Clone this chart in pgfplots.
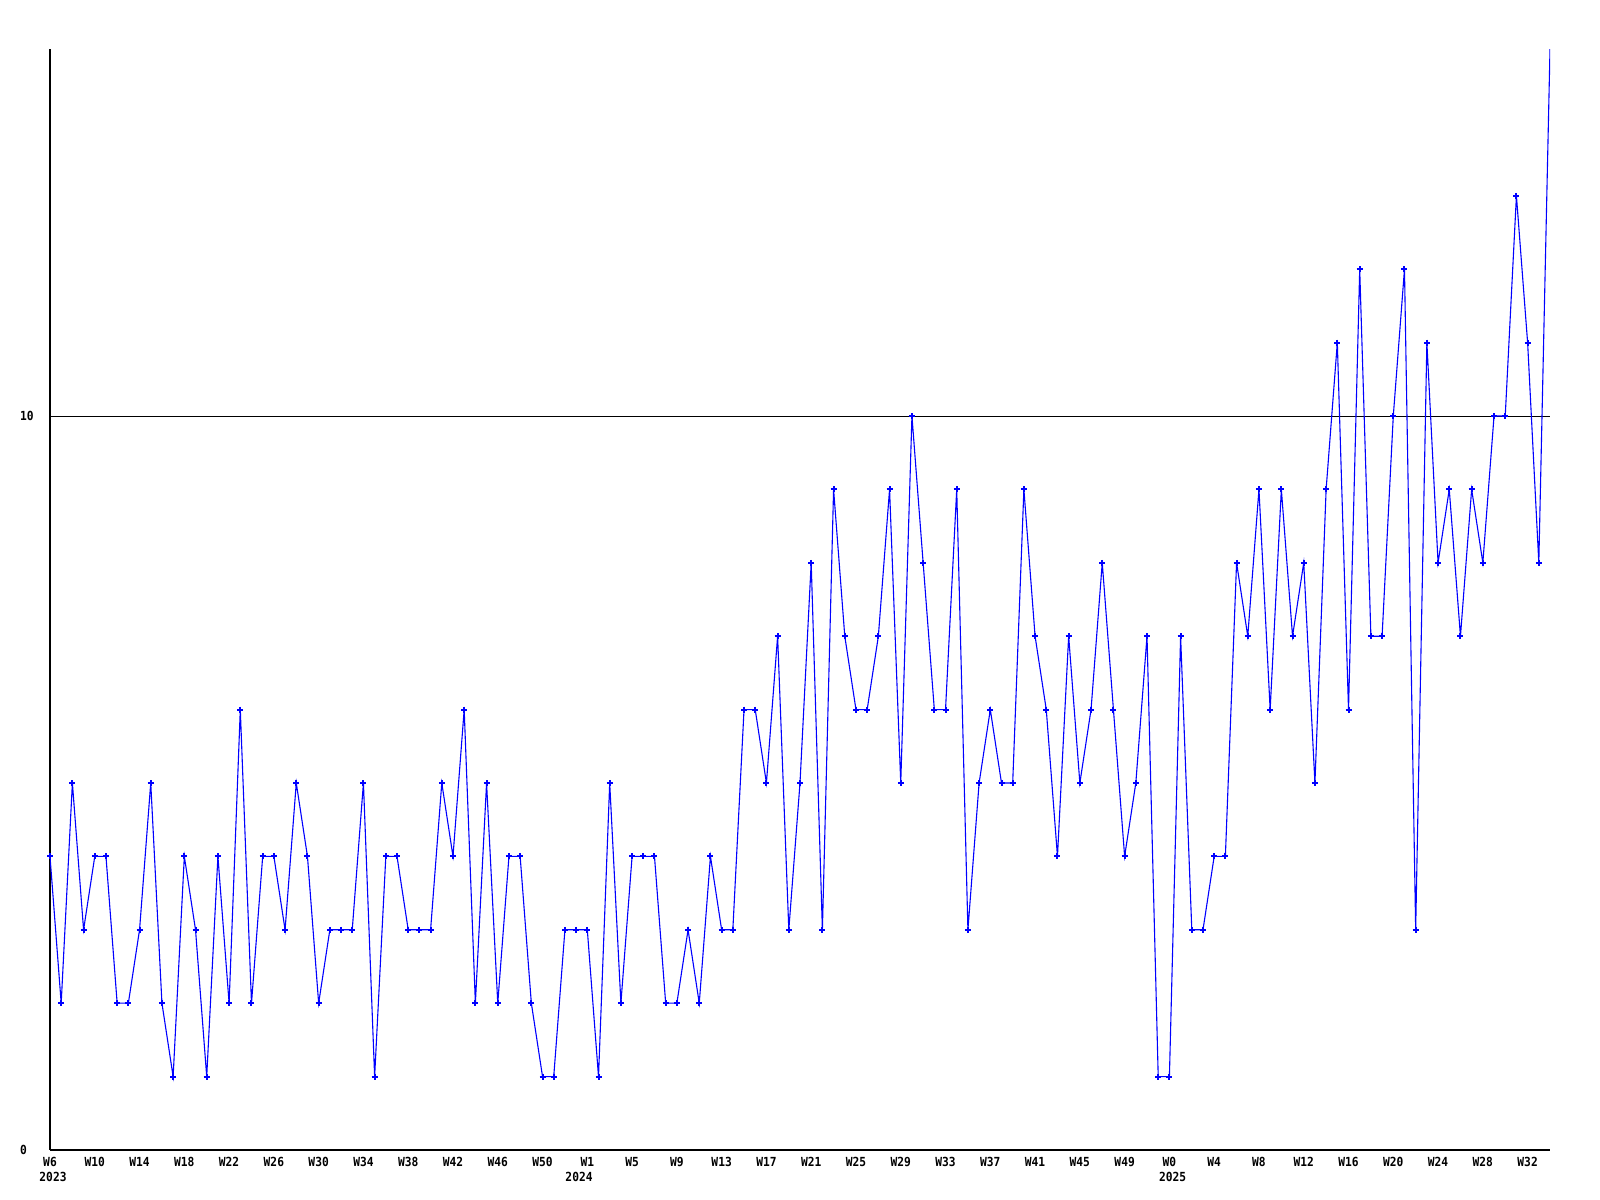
\documentclass[border=0pt]{standalone}
\usepackage{fontspec}
\setmonofont{DejaVu Sans Mono}[FakeStretch=0.9]
\usepackage{pgfplots}
\pgfplotsset{compat=1.18}
\newcommand\lbl{\fontsize{12.5bp}{15bp}\selectfont\ttfamily\bfseries}
\pgfplotstableread{
i v
0 4
1 2
2 5
3 3
4 4
5 4
6 2
7 2
8 3
9 5
10 2
11 1
12 4
13 3
14 1
15 4
16 2
17 6
18 2
19 4
20 4
21 3
22 5
23 4
24 2
25 3
26 3
27 3
28 5
29 1
30 4
31 4
32 3
33 3
34 3
35 5
36 4
37 6
38 2
39 5
40 2
41 4
42 4
43 2
44 1
45 1
46 3
47 3
48 3
49 1
50 5
51 2
52 4
53 4
54 4
55 2
56 2
57 3
58 2
59 4
60 3
61 3
62 6
63 6
64 5
65 7
66 3
67 5
68 8
69 3
70 9
71 7
72 6
73 6
74 7
75 9
76 5
77 10
78 8
79 6
80 6
81 9
82 3
83 5
84 6
85 5
86 5
87 9
88 7
89 6
90 4
91 7
92 5
93 6
94 8
95 6
96 4
97 5
98 7
99 1
100 1
101 7
102 3
103 3
104 4
105 4
106 8
107 7
108 9
109 6
110 9
111 7
112 8
113 5
114 9
115 11
116 6
117 12
118 7
119 7
120 10
121 12
122 3
123 11
124 8
125 9
126 7
127 9
128 8
129 10
130 10
131 13
132 11
133 8
134 15
}\datatable
\begin{document}
\begin{tikzpicture}
\path[use as bounding box] (0bp,0bp) rectangle (1600bp,1200bp);
\begin{axis}[
  at={(50bp,50bp)}, anchor=south west,
  scale only axis, width=1500bp, height=1101bp,
  xmin=0, xmax=134, ymin=0, ymax=15,
  axis x line*=bottom, axis y line*=left,
  axis line style={black, line width=1.2bp, -},
  major tick length=0pt,
  ytick={0,10}, yticklabels={0,10},
  ymajorgrids, grid style={black, line width=1bp},
  xtick={0,4,...,132},
  xticklabels={W6,W10,W14,W18,W22,W26,W30,W34,W38,W42,W46,W50,W1,W5,W9,W13,W17,W21,W25,W29,W33,W37,W41,W45,W49,W0,W4,W8,W12,W16,W20,W24,W28,W32},
  xticklabel style={font=\lbl, anchor=center, inner sep=0pt, yshift=-12bp},
  yticklabel style={font=\lbl, anchor=west, inner sep=0pt, xshift=-30bp},
  clip mode=individual,
]
\addplot[color={rgb,255:red,0;green,0;blue,255}, line width=1.1bp, mark=+, mark size=3bp, mark indices={1,...,134}, mark options={line width=2bp}] table[x=i, y=v] {\datatable};
\node[font=\lbl, anchor=center, yshift=-27bp] at (axis cs:0.27,0) {2023};
\node[font=\lbl, anchor=center, yshift=-27bp] at (axis cs:47.26,0) {2024};
\node[font=\lbl, anchor=center, yshift=-27bp] at (axis cs:100.28,0) {2025};
\end{axis}
\end{tikzpicture}
\end{document}
